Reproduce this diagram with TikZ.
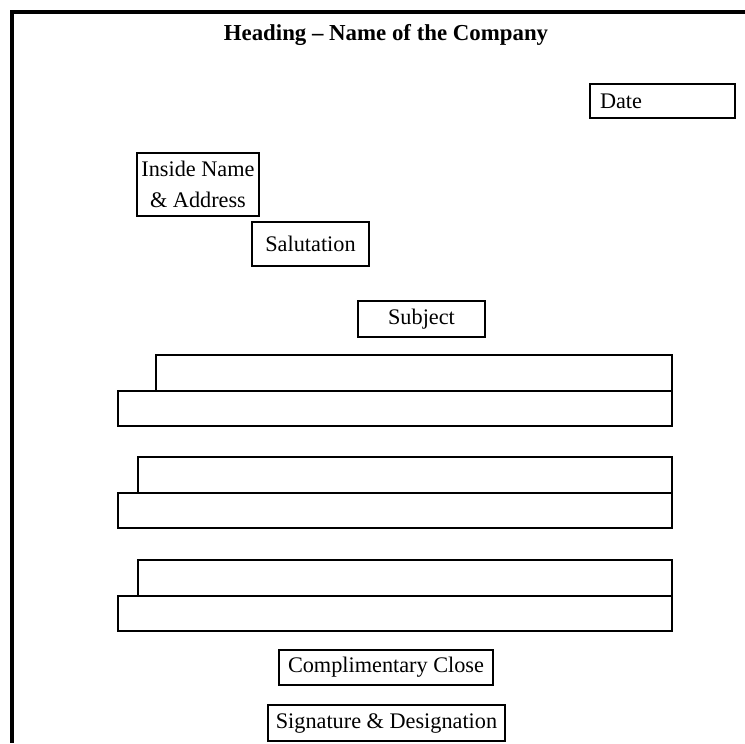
\documentclass[tikz,border=0pt]{standalone}
\usepackage{fontspec}
\setmainfont{Liberation Serif}
\usetikzlibrary{positioning}

\begin{document}
\begin{tikzpicture}[x=0.03cm,y=-0.03cm,line width=2.3pt,
        every node/.style={font=\fontsize{19}{27}\selectfont},
        box/.style={draw,inner sep=0pt}]
                \useasboundingbox (0,0) rectangle (745,743);
                \draw[line width=2.8pt] (10,12) -- (745,12) (12,12) -- (12,743);
                \node[font=\bfseries\fontsize{19.5}{23}\selectfont](Heading)at(386,35){Heading -- Name of the Company};
                \node[box,text width=3.75cm,inner xsep=0.3cm,minimum height=1.02cm,align=left](Date)at(662.5,101){Date};
                \node[box,minimum width=3.66cm,minimum height=1.89cm,align=center](Inside)at(198,184.5){Inside Name\\\& Address};
                \node[box,minimum width=3.51cm,minimum height=1.32cm](Salutation)at(310.5,244){Salutation};
                \node[box,minimum width=3.81cm,minimum height=1.08cm](Subject)at(421.5,319){Subject};
                \foreach \y/\x in {355/156,457/138,560/138}{
                    \draw (\x,\y) rectangle (672,\y+36);
                    \draw (118,\y+36) rectangle (672,\y+71);
                }
                \node[box,minimum width=6.42cm,minimum height=1.05cm](Close)at(386,667.5){Complimentary Close};
                \node[box,minimum width=7.11cm,minimum height=1.08cm](Signature)at(386.5,723){Signature \& Designation};
            \end{tikzpicture}
\end{document}
